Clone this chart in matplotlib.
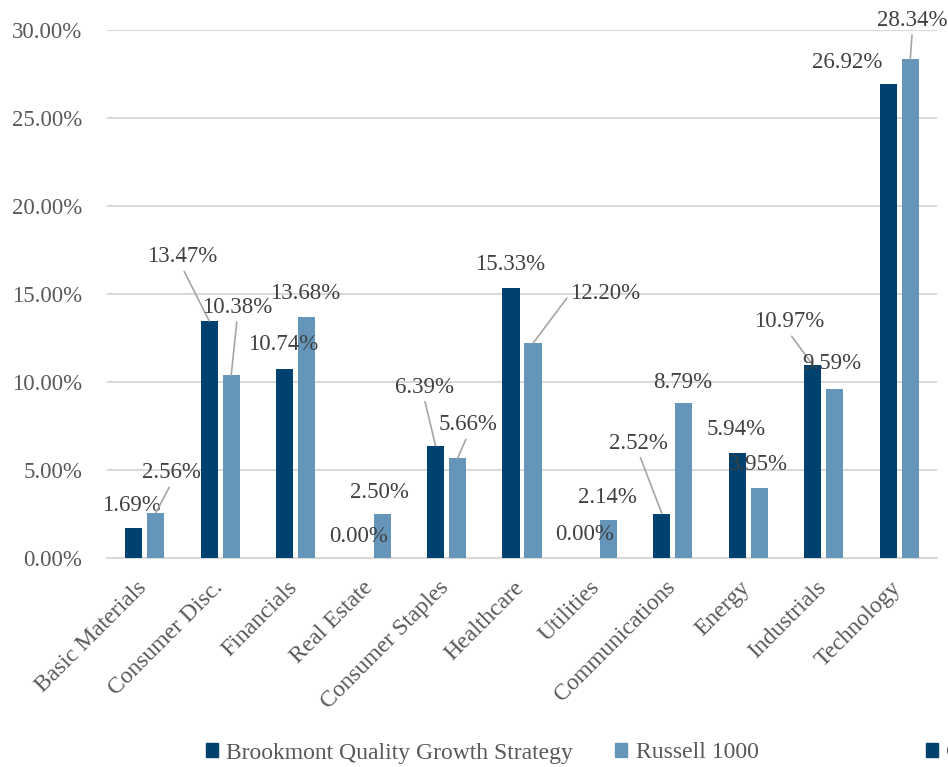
import numpy as np
import matplotlib
matplotlib.use("Agg")
import matplotlib.pyplot as plt
from matplotlib.patches import Patch
from matplotlib.ticker import FuncFormatter
import matplotlib.transforms as mtransforms

plt.rcParams['font.family'] = ['Liberation Serif', 'DejaVu Serif']

categories = ['Basic Materials', 'Consumer Disc.', 'Financials', 'Real Estate',
              'Consumer Staples', 'Healthcare', 'Utilities', 'Communications',
              'Energy', 'Industrials', 'Technology']
brookmont = [1.69, 13.47, 10.74, 0.00, 6.39, 15.33, 0.00, 2.52, 5.94, 10.97, 26.92]
russell = [2.56, 10.38, 13.68, 2.50, 5.66, 12.20, 2.14, 8.79, 3.95, 9.59, 28.34]
series_names = ['Brookmont Quality Growth Strategy', 'Russell 1000', 'Cash']

# label placement (pixels from bar top centre) and leader lines, as in the original
brook_off = [(-2, 23), (-27, 64), (-1.5, 24), (-2, 22), (-11.5, 58.5), (-1, 24),
             (-1.5, 23), (-23, 70.6), (-1.5, 23.5), (-24, 43), (-41.5, 22)]
brook_lead = [False, True, False, False, True, False, False, True, False, True, False]
russ_off = [(15.5, 40), (6, 68), (-1, 24), (-2.5, 22), (10, 33.5), (72.5, 50),
            (-1, 23), (-1, 21), (-1.5, 23.5), (-3, 26), (2, 39)]
russ_lead = [True, True, False, False, True, True, False, False, False, False, True]
russ_relpos = [(0.5, 0)] * 5 + [(0, 0.5)] + [(0.5, 0)] * 5

dark = '#00426F'
light = '#6596BA'
grid_c = '#D9D9D9'
txt_c = '#404040'
tick_c = '#595959'
fs = 16.5

fig = plt.figure(figsize=(9.48, 7.67), dpi=100)
ax = fig.add_axes([107 / 948, 209 / 767, 830 / 948, 528 / 767])

x = np.arange(len(categories))
w = 0.226
off = 0.146
b1 = ax.bar(x - off, brookmont, w, color=dark, zorder=3)
b2 = ax.bar(x + off, russell, w, color=light, zorder=3)

ax.set_xlim(-0.5, len(categories) - 0.5)
ax.set_ylim(0, 30)
ax.set_yticks(np.arange(0, 30.1, 5))
ax.yaxis.set_major_formatter(FuncFormatter(lambda v, p: f'{v:.2f}%'))
ax.grid(axis='y', color=grid_c, linewidth=1.5, zorder=0)
for s in ['top', 'right', 'left']:
    ax.spines[s].set_visible(False)
ax.spines['bottom'].set_color(grid_c)
ax.spines['bottom'].set_linewidth(1.5)
ax.tick_params(axis='y', length=0, pad=18, labelsize=fs, labelcolor=tick_c)
ax.tick_params(axis='x', length=0, pad=19, labelsize=17, labelcolor=tick_c)

ax.set_xticks(x)
ax.set_xticklabels(categories, rotation=45, ha='right', va='center', rotation_mode='anchor')
shift = mtransforms.ScaledTranslation(-1 / 100, 0, fig.dpi_scale_trans)
for lab in ax.get_xticklabels():
    lab.set_transform(lab.get_transform() + shift)


def add_labels(bars, vals, offs, leads, relposes):
    for rect, v, (dx, dy), lead, rp in zip(bars, vals, offs, leads, relposes):
        xy = (rect.get_x() + rect.get_width() / 2, rect.get_height())
        props = None
        if lead:
            props = dict(arrowstyle='-', color='#A6A6A6', lw=1.2,
                         shrinkA=1, shrinkB=0, relpos=rp)
        ax.annotate(f'{v:.2f}%', xy=xy, xytext=(dx, dy), textcoords='offset pixels',
                    ha='center', va='center', fontsize=fs, color=txt_c,
                    arrowprops=props, zorder=5, annotation_clip=False)


add_labels(b1, brookmont, brook_off, brook_lead, [(0.5, 0)] * len(brookmont))
add_labels(b2, russell, russ_off, russ_lead, russ_relpos)

h1 = Patch(color=dark, label=series_names[0])
h2 = Patch(color=light, label=series_names[1])
h3 = Patch(color=dark, label=series_names[2])
leg_kw = dict(frameon=False, fontsize=17, handlelength=0.5, handleheight=0.5,
              handletextpad=0.35, borderpad=0, borderaxespad=0,
              labelcolor=tick_c, loc='center left')
fig.legend(handles=[h1, h2], ncol=2, columnspacing=1.8,
           bbox_to_anchor=(206 / 948, 1 - 753 / 767), **leg_kw)
# the third entry runs off the right edge, as in the source image
fig.legend(handles=[h3], bbox_to_anchor=(926 / 948, 1 - 753 / 767), **leg_kw)

fig.savefig('out.png', dpi=100)
